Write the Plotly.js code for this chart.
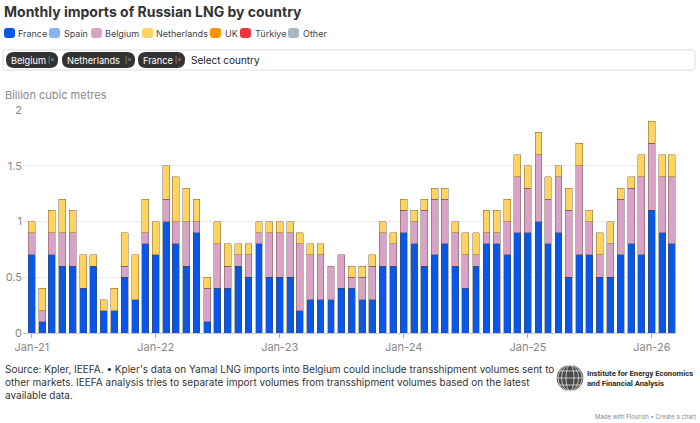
<!DOCTYPE html>
<html><head><meta charset="utf-8">
<script src="https://cdn.plot.ly/plotly-3.0.1.min.js"></script>
<style>html,body{margin:0;padding:0;background:#fff}#chart{width:700px;height:423px}</style>
</head><body><div id="chart"></div>
<script>
// ---------- DATA ----------
const months = [
  '2021-01-01','2021-02-01','2021-03-01','2021-04-01','2021-05-01','2021-06-01','2021-07-01','2021-08-01','2021-09-01','2021-10-01','2021-11-01','2021-12-01',
  '2022-01-01','2022-02-01','2022-03-01','2022-04-01','2022-05-01','2022-06-01','2022-07-01','2022-08-01','2022-09-01','2022-10-01','2022-11-01','2022-12-01',
  '2023-01-01','2023-02-01','2023-03-01','2023-04-01','2023-05-01','2023-06-01','2023-07-01','2023-08-01','2023-09-01','2023-10-01','2023-11-01','2023-12-01',
  '2024-01-01','2024-02-01','2024-03-01','2024-04-01','2024-05-01','2024-06-01','2024-07-01','2024-08-01','2024-09-01','2024-10-01','2024-11-01','2024-12-01',
  '2025-01-01','2025-02-01','2025-03-01','2025-04-01','2025-05-01','2025-06-01','2025-07-01','2025-08-01','2025-09-01','2025-10-01','2025-11-01','2025-12-01',
  '2026-01-01','2026-02-01','2026-03-01'
];
const france = [
  0.7,0.1,0.7,0.6,0.6,0.4,0.6,0.2,0.2,0.5,0.3,0.8,
  0.7,1.0,0.8,0.6,0.9,0.1,0.4,0.4,0.6,0.5,0.8,0.5,
  0.5,0.5,0.2,0.3,0.3,0.3,0.4,0.4,0.3,0.3,0.6,0.6,
  0.9,0.8,0.6,0.7,0.8,0.6,0.4,0.6,0.8,0.8,0.7,0.9,
  0.9,1.0,0.8,0.9,0.5,0.7,0.7,0.5,0.5,0.7,0.8,0.7,
  1.1,0.9,0.8
];
const belgium = [
  0.2,0.1,0.2,0.3,0.3,0,0,0,0,0.1,0,0.1,
  0,0.2,0.2,0.4,0.1,0.3,0.4,0.2,0.1,0.2,0.1,0.4,
  0.4,0.4,0.6,0.4,0.4,0.3,0.3,0.1,0.2,0.3,0.3,0.2,
  0.2,0.2,0.5,0.5,0.4,0.3,0.3,0.1,0.1,0.1,0.3,0.5,
  0.4,0.6,0.4,0.5,0.6,0.8,0.3,0.2,0.3,0.5,0.5,0.7,
  0.6,0.5,0.6
];
const netherlands = [
  0.1,0.2,0.2,0.3,0.2,0.3,0.1,0.1,0.2,0.3,0.4,0.3,
  0.3,0.3,0.4,0.3,0.2,0.1,0.2,0.2,0.1,0.1,0.1,0.1,
  0.1,0.1,0.1,0.1,0.1,0,0,0.1,0.1,0.1,0.1,0.1,
  0.1,0.1,0.1,0.1,0.1,0.1,0.2,0.2,0.2,0.2,0.2,0.2,
  0.2,0.2,0.2,0.1,0.2,0.2,0.1,0.2,0.2,0.1,0.1,0.2,
  0.2,0.2,0.2
];
const legendNames  = ['France','Spain','Belgium','Netherlands','UK','Türkiye','Other'];
const legendColors = ['#0a56e6','#86b4f3','#dba2c8','#ffd262','#f99500','#f0353f','#a9b7c5'];
const chipLabels   = ['Belgium','Netherlands','France'];
const xTickVals = ['2021-01-01','2022-01-01','2023-01-01','2024-01-01','2025-01-01','2026-01-01'];
const xTickText = ['Jan-21','Jan-22','Jan-23','Jan-24','Jan-25','Jan-26'];
const yTickVals = [0,0.5,1,1.5,2];
const yTickText = ['0','0.5','1','1.5','2'];
const titleText = 'Monthly imports of Russian LNG by country';
const yTitleText = 'Billion cubic metres';
const sourceText = "Source: Kpler, IEEFA. • Kpler's data on Yamal LNG imports into Belgium could include transshipment volumes sent to<br>other markets. IEEFA analysis tries to separate import volumes from transshipment volumes based on the latest<br>available data.";

// ---------- LAYOUT HELPERS ----------
const W=700,H=423,L=23,R=24,T=110,B=90;
const PW=W-L-R, PH=H-T-B;
const px = x => (x-L)/PW;
const py = y => (H-B-y)/PH;
function rr(x0,y0,x1,y1,r){
  return `M${px(x0+r)},${py(y0)} L${px(x1-r)},${py(y0)} Q${px(x1)},${py(y0)} ${px(x1)},${py(y0+r)} `+
         `L${px(x1)},${py(y1-r)} Q${px(x1)},${py(y1)} ${px(x1-r)},${py(y1)} `+
         `L${px(x0+r)},${py(y1)} Q${px(x0)},${py(y1)} ${px(x0)},${py(y1-r)} `+
         `L${px(x0)},${py(y0+r)} Q${px(x0)},${py(y0)} ${px(x0+r)},${py(y0)} Z`;
}
const FONT = 'Inter, "Noto Sans", sans-serif';
const nz = a => a.map(v => v === 0 ? null : v);
const barLine = {color:'rgba(80,65,40,0.55)', width:0.7};

const traces = [
  {name:'France', x:months, y:nz(france), type:'bar', marker:{color:legendColors[0], line:barLine}},
  {name:'Belgium', x:months, y:nz(belgium), type:'bar', marker:{color:legendColors[2], line:barLine}},
  {name:'Netherlands', x:months, y:nz(netherlands), type:'bar', marker:{color:legendColors[3], line:barLine}}
];

const shapes = [];
const annotations = [];

// legend
const legendPos = [[4,16],[49,62],[91,103],[142,154],[210,223],[240,253],[288,301]];
legendNames.forEach((n,i)=>{
  const [sx,tx] = legendPos[i];
  shapes.push({type:'path', xref:'paper', yref:'paper', path: rr(sx,28,sx+11,38,3),
    fillcolor: legendColors[i], line:{width:0}});
  annotations.push({xref:'paper', yref:'paper', x:px(tx), y:py(33.5), xanchor:'left', yanchor:'middle',
    text:n, showarrow:false, font:{family:FONT, size:9, color:'#444'}});
});

// filter box
shapes.push({type:'path', xref:'paper', yref:'paper', path: rr(3,50,695,70,2),
  fillcolor:'#ffffff', line:{color:'#dddddd', width:1}});
const chipPos = [[6,58],[62,135],[138,185]];
chipLabels.forEach((c,i)=>{
  const [x0,x1] = chipPos[i];
  shapes.push({type:'path', xref:'paper', yref:'paper', path: rr(x0,52,x1,68,8),
    fillcolor:'#333333', line:{width:0}});
  annotations.push({xref:'paper', yref:'paper', x:px(x0+3), y:py(60), xanchor:'left', yanchor:'middle',
    text: c, showarrow:false, font:{family:FONT, size:9.2, color:'#ffffff'}});
  annotations.push({xref:'paper', yref:'paper', x:px(x1-2), y:py(60.5), xanchor:'right', yanchor:'middle',
    text: '|×', showarrow:false, font:{family:FONT, size:6.5, color:'#aaaaaa'}});
});
annotations.push({xref:'paper', yref:'paper', x:px(189), y:py(60), xanchor:'left', yanchor:'middle',
  text:'Select country', showarrow:false, font:{family:FONT, size:10, color:'#222'}});

// y axis title
annotations.push({xref:'paper', yref:'paper', x:px(3), y:py(95), xanchor:'left', yanchor:'middle',
  text:yTitleText, showarrow:false, font:{family:FONT, size:11, color:'#888'}});

// source
annotations.push({xref:'paper', yref:'paper', x:px(3), y:py(361), xanchor:'left', yanchor:'top', align:'left',
  text:sourceText, showarrow:false, font:{family:FONT, size:10, color:'#333'}});

// logo
shapes.push({type:'circle', xref:'paper', yref:'paper', x0:px(557), x1:px(583), y0:py(391), y1:py(365),
  fillcolor:'#4a4a4a', line:{color:'#333', width:0.5}});
[4,8.5,12].forEach(w=>{
  shapes.push({type:'circle', xref:'paper', yref:'paper', x0:px(570-w), x1:px(570+w), y0:py(391), y1:py(365),
    fillcolor:'rgba(0,0,0,0)', line:{color:'rgba(255,255,255,0.8)', width:0.8}});
});
[371,378,385].forEach(yy=>{
  const half = Math.sqrt(169-(yy-378)*(yy-378));
  shapes.push({type:'line', xref:'paper', yref:'paper', x0:px(570-half), x1:px(570+half), y0:py(yy), y1:py(yy),
    line:{color:'rgba(255,255,255,0.8)', width:0.8}});
});
annotations.push({xref:'paper', yref:'paper', x:px(585), y:py(378.5), xanchor:'left', yanchor:'middle', align:'left',
  text:'<b>Institute for Energy Economics<br>and Financial Analysis</b>', showarrow:false,
  font:{family:'Roboto, sans-serif', size:7.7, color:'#2a2a2a'}});

// flourish credit
annotations.push({xref:'paper', yref:'paper', x:px(698), y:py(416), xanchor:'right', yanchor:'middle',
  text:'Made with Flourish • Create a chart', showarrow:false, font:{family:FONT, size:6, color:'#888'}});

const layout = {
  width:W, height:H, margin:{l:L, r:R, t:T, b:B, pad:0},
  paper_bgcolor:'#fff', plot_bgcolor:'#fff',
  font:{family:FONT, color:'#333'},
  title:{text:'<b>'+titleText+'</b>', x:4/W, xanchor:'left', xref:'container',
         y:1-12/H, yanchor:'middle', yref:'container', font:{family:FONT, size:14, color:'#333'}},
  barmode:'stack', bargap:0.27, showlegend:false, hovermode:false,
  xaxis:{type:'date', range:['2020-12-06','2026-03-13'], tickvals:xTickVals, ticktext:xTickText,
    ticks:'outside', ticklen:4, tickcolor:'#aaa', showgrid:false, showline:true, linecolor:'#ccc', linewidth:1,
    tickfont:{family:FONT, size:11, color:'#888'}, fixedrange:true},
  yaxis:{range:[0,2], tickvals:yTickVals, ticktext:yTickText, showgrid:true, gridcolor:'#ebebeb', gridwidth:1,
    zeroline:false, showline:false, ticks:'', tickfont:{family:FONT, size:11, color:'#888'}, fixedrange:true},
  shapes:shapes, annotations:annotations
};
Plotly.newPlot('chart', traces, layout, {displayModeBar:false, staticPlot:true});
</script></body></html>
